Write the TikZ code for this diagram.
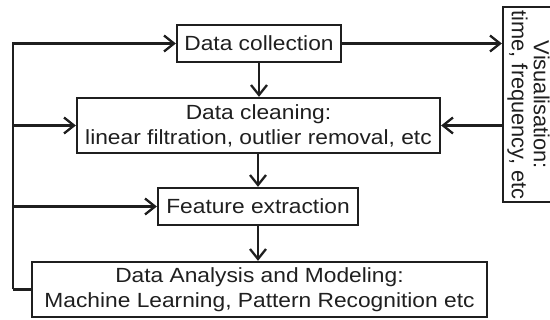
\documentclass[tikz,border=0pt]{standalone}
\usepackage{fontspec}
\setmainfont{Liberation Sans}
\newfontfamily\boxfont[FakeStretch=1.11]{Liberation Sans}
\usetikzlibrary{arrows.meta}
\begin{document}
\begin{tikzpicture}[x=1pt,y=-1pt,
  line/.style={line width=2.3pt, draw=black!88},
  arr/.style={line, -{Straight Barb[length=10pt,width=16pt]}},
  stepbox/.style={line, inner sep=0pt, align=center, text=black!88,
    font=\boxfont\fontsize{20.5}{25}\selectfont},
  vistext/.style={inner sep=0pt, align=center, rotate=-90, text=black!88,
    font=\fontsize{21.8}{22}\selectfont}]
\useasboundingbox (0,0) rectangle (550,320);
\clip (0,0) rectangle (550,320);
\node[stepbox, minimum width=164pt, minimum height=37pt] (coll) at (259,43.5) {Data collection};
\node[stepbox, minimum width=363pt, minimum height=55pt] (clean) at (258.5,125.5) {Data cleaning:\\linear filtration, outlier removal, etc};
\node[stepbox, minimum width=200pt, minimum height=37pt] (feat) at (258,206.5) {Feature extraction};
\node[stepbox, minimum width=455pt, minimum height=55pt] (anal) at (259.5,289.5) {Data Analysis and Modeling:\\Machine Learning, Pattern Recognition etc};
\node[line, inner sep=0pt, minimum width=67pt, minimum height=195pt] (vis) at (536.5,104.5) {};
\node[vistext] (vist) at (528.5,105) {Visualisation:\\time, frequency, etc};
% main flow
\draw[arr] (coll.south) -- (coll.south |- clean.north);
\draw[arr] (clean.south -| feat.north) -- (feat.north);
\draw[arr] (feat.south) -- (feat.south |- anal.north);
% feedback loop on the left
\coordinate (lb) at (13,289.5);
\draw[line] (anal.west) -- (lb);
\draw[arr] (lb) |- (coll.west);
\draw[arr] (lb |- clean.west) -- (clean.west);
\draw[arr] (lb |- feat.west) -- (feat.west);
% visualisation
\draw[arr] (coll.east) -- (coll.east -| vis.west);
\draw[arr] (clean.east -| vis.west) -- (clean.east);
\end{tikzpicture}
\end{document}
